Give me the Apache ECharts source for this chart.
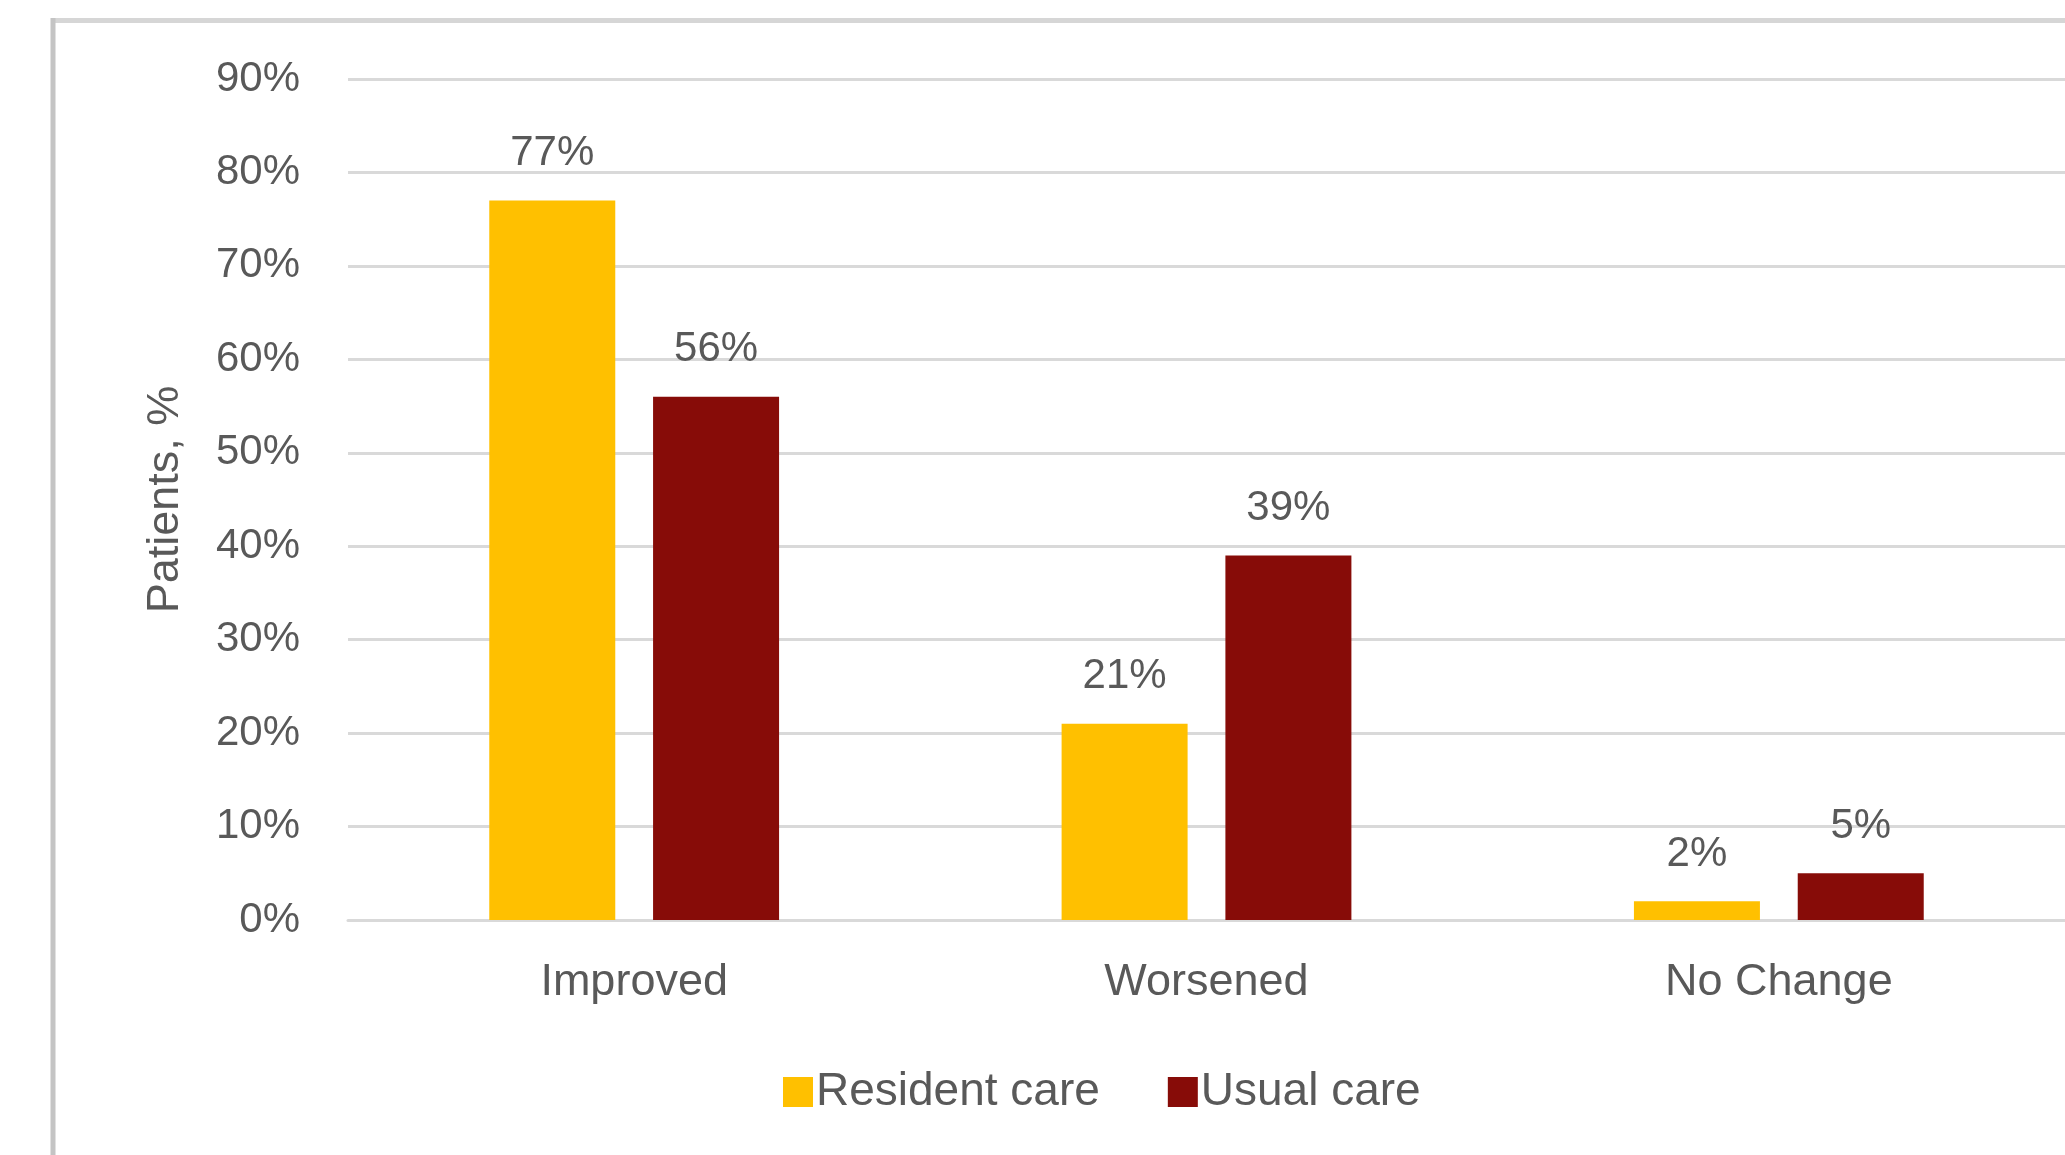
<!DOCTYPE html>
<html>
<head>
<meta charset="utf-8">
<script src="https://cdn.jsdelivr.net/npm/echarts@6/dist/echarts.min.js"></script>
<style>html,body{margin:0;padding:0;background:#fff;}#c{width:2065px;height:1155px;}</style>
</head>
<body>
<div id="c"></div>
<script>
const categories = ['Improved', 'Worsened', 'No Change'];
const residentCare = [77, 21, 2];
const usualCare = [56, 39, 5];
const yTicks = { min: 0, max: 90, interval: 10 };

const FONT = 'Liberation Sans';
const TXT = '#595959';
const chart = echarts.init(document.getElementById('c'));
chart.setOption({
  backgroundColor: '#ffffff',
  animation: false,
  textStyle: { fontFamily: FONT },
  graphic: [
    { type: 'line', shape: { x1: 52, y1: 20.5, x2: 2065, y2: 20.5 }, style: { stroke: '#d6d6d6', lineWidth: 5 } },
    { type: 'line', shape: { x1: 53, y1: 18, x2: 53, y2: 1155 }, style: { stroke: '#c4c4c4', lineWidth: 5 } }
  ],
  grid: { left: 348, right: 0, top: 79, bottom: 235, containLabel: false },
  legend: {
    left: 778, top: 1064,
    itemWidth: 30, itemHeight: 30, itemGap: 68,
    icon: 'rect',
    textStyle: { fontFamily: FONT, fontSize: 46, color: TXT, padding: [0, 0, 0, -2] },
    data: ['Resident care', 'Usual care']
  },
  xAxis: {
    type: 'category',
    data: categories,
    axisTick: { show: false },
    axisLine: { lineStyle: { color: '#d9d9d9', width: 3 } },
    axisLabel: { fontFamily: FONT, fontSize: 45, color: TXT, margin: 40 }
  },
  yAxis: {
    type: 'value',
    min: yTicks.min, max: yTicks.max, interval: yTicks.interval,
    name: 'Patients, %',
    nameLocation: 'middle',
    nameGap: 160,
    nameTextStyle: { fontFamily: FONT, fontSize: 45, color: TXT },
    axisLine: { show: false },
    axisTick: { show: false },
    axisLabel: { formatter: '{value}%', fontFamily: FONT, fontSize: 42, color: TXT, margin: 48 },
    splitLine: { lineStyle: { color: '#d9d9d9', width: 3 } }
  },
  series: [
    {
      name: 'Resident care', type: 'bar', data: residentCare,
      barWidth: 126, barGap: '30%',
      itemStyle: { color: '#FFC000' },
      label: { show: true, position: 'top', distance: 26, formatter: '{c}%', fontFamily: FONT, fontSize: 42, color: TXT }
    },
    {
      name: 'Usual care', type: 'bar', data: usualCare,
      barWidth: 126,
      itemStyle: { color: '#870C08' },
      label: { show: true, position: 'top', distance: 26, formatter: '{c}%', fontFamily: FONT, fontSize: 42, color: TXT }
    }
  ]
});
</script>
</body>
</html>
